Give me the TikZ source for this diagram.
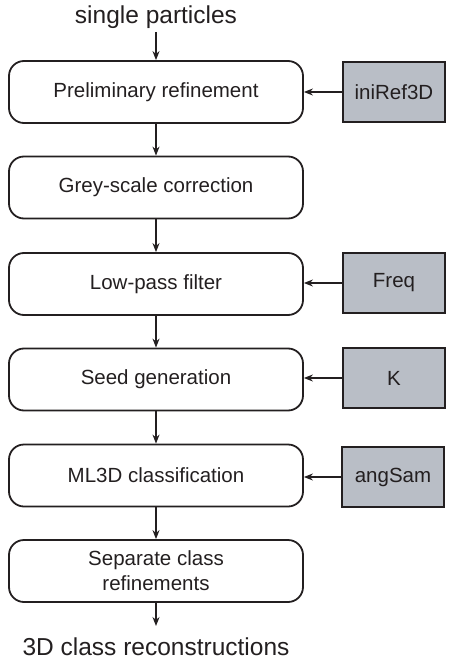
\documentclass[tikz,border=0pt]{standalone}
\usepackage{fontspec}
\setmainfont{Liberation Sans}
\usetikzlibrary{arrows.meta}
\definecolor{txt}{HTML}{231F20}
\definecolor{param}{HTML}{B9BEC6}
\begin{document}
\begin{tikzpicture}[x=1pt,y=-1pt,
  stepbox/.style={draw=txt,line width=1.8pt,rounded corners=15pt,minimum width=294pt,minimum height=62pt,inner sep=0pt,align=center,font=\fontsize{20.5}{25}\selectfont,text=txt},
  parbox/.style={draw=txt,line width=1.8pt,fill=param,minimum width=102pt,minimum height=60pt,inner sep=0pt,font=\fontsize{20.5}{25}\selectfont,text=txt},
  endtext/.style={font=\fontsize{24.5}{29}\selectfont,text=txt,inner sep=0pt},
  conn/.style={draw=txt,line width=1.3pt,-{Stealth[length=9pt,width=7pt]}}]
\useasboundingbox (0,0) rectangle (454,663);
\node[endtext] (src) at (156,17) {single particles};
\node[stepbox] (s1) at (156,92) {Preliminary refinement};
\node[stepbox] (s2) at (156,187.5) {Grey-scale correction};
\node[stepbox] (s3) at (156,284) {Low-pass filter};
\node[stepbox] (s4) at (156,379.5) {Seed generation};
\node[stepbox] (s5) at (156,475.5) {ML3D classification};
\node[stepbox] (s6) at (156,571) {Separate class\\refinements};
\node[endtext] (dst) at (156,647) {3D class reconstructions};
\node[parbox] (p1) at (394,92) {iniRef3D};
\node[parbox] (p3) at (394,283) {Freq};
\node[parbox] (p4) at (394,378) {K};
\node[parbox] (p5) at (393,477) {angSam};
\coordinate (a0) at (156,32);
\coordinate (a7) at (156,626);
\draw[conn] (a0) -- (s1.north);
\draw[conn] (s1) -- (s2);
\draw[conn] (s2) -- (s3);
\draw[conn] (s3) -- (s4);
\draw[conn] (s4) -- (s5);
\draw[conn] (s5) -- (s6);
\draw[conn] (s6.south) -- (a7);
\draw[conn] (p1.west) -- (p1.west -| s1.east);
\draw[conn] (p3.west) -- (p3.west -| s3.east);
\draw[conn] (p4.west) -- (p4.west -| s4.east);
\draw[conn] (p5.west) -- (p5.west -| s5.east);
\end{tikzpicture}
\end{document}
